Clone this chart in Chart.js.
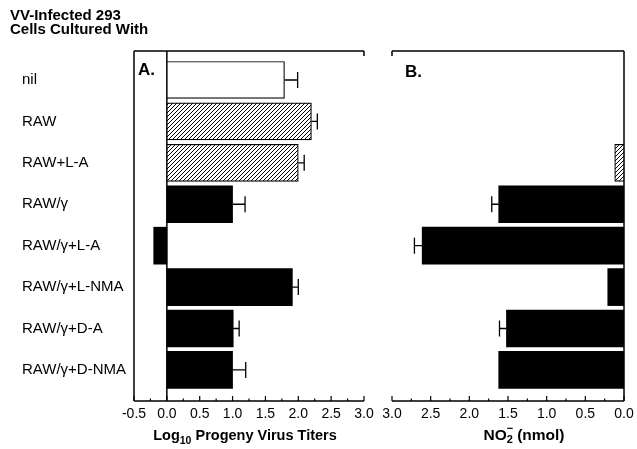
<!DOCTYPE html>
<html><head><meta charset="utf-8">
<script src="https://cdn.jsdelivr.net/npm/chart.js@4/dist/chart.umd.min.js"></script>
<style>
html,body{margin:0;padding:0;background:#fff;}
#wrap{position:relative;width:637px;height:449px;overflow:hidden;background:#fff;}
canvas{position:absolute;top:0;}
</style></head><body>
<div id="wrap">
<canvas id="ca" width="380" height="449" style="left:0px"></canvas>
<canvas id="cb" width="257" height="449" style="left:380px"></canvas>
</div>
<script>
// ---- data ----
const categories = ['nil', 'RAW', 'RAW+L-A', 'RAW/γ', 'RAW/γ+L-A', 'RAW/γ+L-NMA', 'RAW/γ+D-A', 'RAW/γ+D-NMA'];
const titers = [1.79, 2.20, 2.00, 1.00, -0.20, 1.91, 1.01, 1.00];
const titerErrors = [0.20, 0.09, 0.09, 0.19, null, 0.09, 0.09, 0.20];
const nitrite = [null, null, 0.12, 1.62, 2.61, 0.21, 1.52, 1.62];
const nitriteErrors = [null, null, null, 0.09, 0.10, null, 0.09, null];
const titerTicks = [-0.5, 0.0, 0.5, 1.0, 1.5, 2.0, 2.5, 3.0];
const nitriteTicks = [0.0, 0.5, 1.0, 1.5, 2.0, 2.5, 3.0];
const titleLines = ['VV-Infected 293', 'Cells Cultured With'];

// ---- styles ----
const FONT = '"Liberation Sans", Arial, Helvetica, sans-serif';
const fillKinds = ['open', 'hatch', 'hatch', 'solid', 'solid', 'solid', 'solid', 'solid'];

function makeHatch() {
  const c = document.createElement('canvas');
  c.width = 4; c.height = 4;
  const g = c.getContext('2d');
  g.fillStyle = '#fff'; g.fillRect(0, 0, 4, 4);
  g.strokeStyle = '#000'; g.lineWidth = 1;
  g.beginPath();
  g.moveTo(0, 4); g.lineTo(4, 0);
  g.moveTo(-1, 1); g.lineTo(1, -1);
  g.moveTo(3, 5); g.lineTo(5, 3);
  g.stroke();
  return g.createPattern(c, 'repeat');
}
const hatch = makeHatch();
const bg = fillKinds.map(k => k === 'open' ? '#ffffff' : k === 'hatch' ? hatch : '#000000');
const bw = fillKinds.map(k => k === 'solid' ? 0 : 1.2);

const Y_MIN = -0.7, Y_MAX = 7.75;

function yScale(display) {
  return {
    type: 'linear', reverse: true, min: Y_MIN, max: Y_MAX, display: display, offset: false,
    afterBuildTicks: s => { s.ticks = categories.map((_, i) => ({ value: i })); },
    afterFit: s => { s.width = display ? 112 : 0; },
    grid: { display: false, drawTicks: false }, border: { display: false },
    ticks: { crossAlign: 'far', padding: 0, color: '#000', font: { family: FONT, size: 15 },
      callback: v => categories[v] }
  };
}
function xScale(min, max, reverse, tickList) {
  return {
    type: 'linear', min: min, max: max, reverse: reverse, offset: false,
    afterBuildTicks: s => { s.ticks = tickList.map(v => ({ value: v })); },
    afterFit: s => { s.height = 48; },
    grid: { display: false, drawTicks: false }, border: { display: false },
    ticks: { padding: 5, color: '#000', maxRotation: 0, autoSkip: false,
      font: { family: FONT, size: 14 }, callback: v => v.toFixed(1) }
  };
}

function drawRich(ctx, parts, cx, baseline) {
  let total = 0;
  parts.forEach(p => { ctx.font = 'bold ' + p.size + 'px ' + FONT; p.w = ctx.measureText(p.t).width; if (!p.noAdvance) total += p.w; });
  let x = cx - total / 2;
  ctx.textBaseline = 'alphabetic'; ctx.textAlign = 'left'; ctx.fillStyle = '#000';
  let prevX = x;
  parts.forEach(p => {
    ctx.font = 'bold ' + p.size + 'px ' + FONT;
    if (p.noAdvance) { ctx.fillText(p.t, prevX + (p.dx || 0), baseline + p.dy); }
    else { ctx.fillText(p.t, x, baseline + p.dy); prevX = x; x += p.w; }
  });
}

function framePlugin(panel) {
  return {
    id: 'frame' + panel,
    afterDatasetsDraw(chart) {
      const ctx = chart.ctx, a = chart.chartArea, xs = chart.scales.x, ys = chart.scales.y;
      const vals = panel === 'A' ? titers : nitrite;
      const errs = panel === 'A' ? titerErrors : nitriteErrors;
      ctx.save();
      ctx.strokeStyle = '#000';
      ctx.lineWidth = 1.3;
      vals.forEach((v, i) => {
        const e = errs[i];
        if (v == null || e == null) return;
        const y = ys.getPixelForValue(i);
        const x0 = xs.getPixelForValue(v), x1 = xs.getPixelForValue(v + e);
        ctx.beginPath();
        ctx.moveTo(x0, y); ctx.lineTo(x1, y);
        ctx.moveTo(x1, y - 8); ctx.lineTo(x1, y + 8);
        ctx.stroke();
      });
      ctx.lineWidth = 1.5;
      ctx.beginPath();
      ctx.moveTo(a.left, a.top); ctx.lineTo(a.right, a.top);
      ctx.moveTo(a.left, a.bottom); ctx.lineTo(a.right, a.bottom);
      const z = xs.getPixelForValue(0);
      ctx.moveTo(z, a.top); ctx.lineTo(z, a.bottom);
      if (panel === 'A') {
        ctx.moveTo(a.left, a.top); ctx.lineTo(a.left, a.bottom);
        ctx.moveTo(a.right, a.top); ctx.lineTo(a.right, a.top + 5);
      } else {
        ctx.moveTo(a.left, a.top); ctx.lineTo(a.left, a.top + 5);
      }
      ctx.stroke();
      ctx.lineWidth = 1.2;
      ctx.beginPath();
      for (let v = xs.min; v <= xs.max + 1e-9; v += 0.25) {
        const major = Math.abs(v * 2 - Math.round(v * 2)) < 1e-6;
        const x = xs.getPixelForValue(v);
        ctx.moveTo(x, a.bottom); ctx.lineTo(x, a.bottom - (major ? 5 : 2.5));
      }
      ctx.stroke();
      ctx.restore();
    },
    afterDraw(chart) {
      const ctx = chart.ctx, a = chart.chartArea;
      ctx.save();
      ctx.fillStyle = '#000'; ctx.textAlign = 'left'; ctx.textBaseline = 'alphabetic';
      ctx.font = 'bold 17px ' + FONT;
      if (panel === 'A') {
        ctx.fillText('A.', a.left + 4, 75);
        ctx.font = 'bold 15px ' + FONT;
        ctx.fillText(titleLines[0], 10, 20);
        ctx.fillText(titleLines[1], 10, 34);
        drawRich(ctx, [
          { t: 'Log', size: 14.5, dy: 0 },
          { t: '10', size: 10.5, dy: 4 },
          { t: ' Progeny Virus Titers', size: 14.5, dy: 0 }
        ], 245, 440);
      } else {
        ctx.fillText('B.', a.left + 13, 77);
        drawRich(ctx, [
          { t: 'NO', size: 15.5, dy: 0 },
          { t: '2', size: 11, dy: 3 },
          { t: '−', size: 11, dy: -8, noAdvance: true },
          { t: ' (nmol)', size: 15.5, dy: 0 }
        ], 144, 440);
      }
      ctx.restore();
    }
  };
}

function makeChart(id, panel) {
  const vals = panel === 'A' ? titers : nitrite;
  const isA = panel === 'A';
  return new Chart(document.getElementById(id), {
    type: 'bar',
    data: {
      datasets: [{
        data: vals.map((v, i) => ({ x: v, y: i })),
        backgroundColor: bg, borderColor: '#000', borderWidth: bw,
        borderSkipped: 'start', barThickness: 37
      }]
    },
    options: {
      indexAxis: 'y', responsive: false, animation: false, devicePixelRatio: 1,
      layout: { padding: isA ? { left: 22, top: 51, right: 16, bottom: 0 } : { left: 12, top: 51, right: 13, bottom: 0 } },
      plugins: { legend: { display: false }, tooltip: { enabled: false }, title: { display: false } },
      scales: {
        x: isA ? xScale(-0.5, 3.0, false, titerTicks) : xScale(0, 3.0, true, nitriteTicks),
        y: yScale(isA)
      }
    },
    plugins: [framePlugin(panel)]
  });
}
makeChart('ca', 'A');
makeChart('cb', 'B');
</script>
</body></html>
